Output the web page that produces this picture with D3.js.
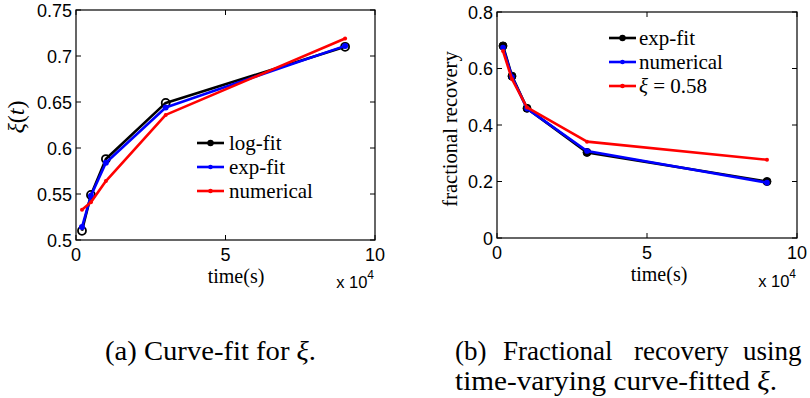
<!DOCTYPE html>
<html><head><meta charset="utf-8">
<script src="https://cdn.jsdelivr.net/npm/d3@7"></script>
<style>body{margin:0;background:#fff}svg{display:block}</style>
</head><body>
<svg id="c" width="810" height="398"></svg>
<script>
// ---- data ----
const timesA = [2000, 5000, 10000, 30000, 90000];
const logFit = [0.510, 0.549, 0.588, 0.649, 0.710];
const expFitA = [0.514, 0.548, 0.584, 0.644, 0.711];
const numericalA = [0.533, 0.541, 0.564, 0.636, 0.719];
const xTicks = [0, 5, 10];
const yTicksA = [0.5, 0.55, 0.6, 0.65, 0.7, 0.75];
const legendA = ["log-fit", "exp-fit", "numerical"];

const timesB = [2000, 5000, 10000, 30000, 90000];
const expFitB = [0.680, 0.573, 0.459, 0.303, 0.200];
const numericalB = [0.674, 0.570, 0.458, 0.308, 0.196];
const xi058 = [0.662, 0.562, 0.462, 0.341, 0.277];
const yTicksB = [0, 0.2, 0.4, 0.6, 0.8];
const legendB = ["exp-fit", "numerical", "<tspan font-style='italic'>ξ</tspan> = 0.58"];

const svg = d3.select("#c");
const SERIF = '"Liberation Serif"';
const SANS = '"Liberation Sans"';

function panel(o) {
  const x = d3.scaleLinear().domain([0, 100000]).range([o.x0, o.x1]);
  const y = d3.scaleLinear().domain(o.ydom).range([o.y1, o.y0]);
  const g = svg.append("g");
  g.append("rect").attr("x", o.x0).attr("y", o.y0).attr("width", o.x1 - o.x0).attr("height", o.y1 - o.y0)
    .attr("fill", "none").attr("stroke", "#000").attr("stroke-width", 1.2);
  const tl = 5;
  xTicks.forEach(t => {
    const px = x(t * 1e4);
    g.append("line").attr("x1", px).attr("x2", px).attr("y1", o.y1).attr("y2", o.y1 - tl).attr("stroke", "#000");
    g.append("line").attr("x1", px).attr("x2", px).attr("y1", o.y0).attr("y2", o.y0 + tl).attr("stroke", "#000");
    g.append("text").style("font-family", SANS).attr("x", px).attr("y", o.y1 + 21).attr("text-anchor", "middle")
      .attr("font-size", 18).text(t);
  });
  o.yticks.forEach(t => {
    const py = y(t);
    g.append("line").attr("x1", o.x0).attr("x2", o.x0 + tl).attr("y1", py).attr("y2", py).attr("stroke", "#000");
    g.append("line").attr("x1", o.x1).attr("x2", o.x1 - tl).attr("y1", py).attr("y2", py).attr("stroke", "#000");
    g.append("text").style("font-family", SANS).attr("x", o.x0 - 4).attr("y", py + 6.5).attr("text-anchor", "end")
      .attr("font-size", 18).text(o.fmt(t));
  });
  const line = d3.line().x((d, i) => x(o.times[i])).y(d => y(d));
  o.series.forEach(s => {
    g.append("path").datum(s.v).attr("d", line).attr("fill", "none").attr("stroke", s.c)
      .attr("stroke-width", 2.6).attr("stroke-linejoin", "round");
    g.selectAll(null).data(s.v).enter().append("circle")
      .attr("cx", (d, i) => x(o.times[i])).attr("cy", d => y(d))
      .attr("r", s.r).attr("fill", s.fill).attr("stroke", s.c).attr("stroke-width", s.sw);
  });
  o.series.forEach((s, i) => {
    const ly = o.ly + i * o.lstep;
    g.append("line").attr("x1", o.lx).attr("x2", o.lx + 27).attr("y1", ly).attr("y2", ly)
      .attr("stroke", s.c).attr("stroke-width", 2.6);
    g.append("circle").attr("cx", o.lx + 13.5).attr("cy", ly).attr("r", i === 0 ? 3.2 : 2.3).attr("fill", s.c);
    g.append("text").style("font-family", SERIF).attr("x", o.lx + o.ltx).attr("y", ly + 6.5)
      .attr("font-size", 21).html(o.legend[i]);
  });
  g.append("text").style("font-family", SERIF).attr("x", o.xlab).attr("y", o.xlabY).attr("text-anchor", "middle")
    .attr("font-size", 20).text("time(s)");
  const e = g.append("text").style("font-family", SANS).attr("x", o.x1 - 1).attr("y", o.expY).attr("text-anchor", "end")
    .attr("font-size", 16.5);
  e.append("tspan").text("x 10");
  e.append("tspan").attr("font-size", 12).attr("dy", -9).text("4");
  return {x, y, g};
}

const A = panel({
  x0: 76, x1: 375, y0: 10, y1: 240, ydom: [0.5, 0.75], yticks: yTicksA,
  fmt: d => String(+d.toFixed(2)), times: timesA,
  series: [
    {v: logFit, c: "#000", r: 4, fill: "none", sw: 1.8},
    {v: expFitA, c: "#0000ff", r: 3, fill: "#0000ff", sw: 0},
    {v: numericalA, c: "#ff0000", r: 2, fill: "#ff0000", sw: 0}
  ],
  legend: legendA, lx: 197, ly: 143, lstep: 24, ltx: 32, xlab: 236, xlabY: 283, expY: 288
});
A.g.append("text").style("font-family", SERIF).attr("transform", "translate(24,117) rotate(-90)").attr("text-anchor", "middle")
  .attr("font-size", 24).html("<tspan font-style='italic'>ξ</tspan>(<tspan font-style='italic'>t</tspan>)");

const B = panel({
  x0: 497, x1: 797, y0: 12, y1: 238, ydom: [0, 0.8], yticks: yTicksB,
  fmt: d => String(+d.toFixed(1)), times: timesB,
  series: [
    {v: expFitB, c: "#000", r: 4, fill: "#000", sw: 1},
    {v: numericalB, c: "#0000ff", r: 2.8, fill: "#0000ff", sw: 0},
    {v: xi058, c: "#ff0000", r: 2, fill: "#ff0000", sw: 0}
  ],
  legend: legendB, lx: 609, ly: 38, lstep: 24, ltx: 30, xlab: 659, xlabY: 281, expY: 287
});
B.g.append("text").style("font-family", SERIF).attr("transform", "translate(457,129) rotate(-90)").attr("text-anchor", "middle")
  .attr("font-size", 20.5).text("fractional recovery");

const cap = svg.append("g").style("font-family", SERIF).attr("font-size", 27);
cap.append("text").attr("x", 105).attr("y", 360).attr("textLength", 211).attr("lengthAdjust", "spacingAndGlyphs")
  .html("(a) Curve-fit for <tspan font-style='italic'>ξ</tspan>.");
const w1 = [["(b)", 455], ["Fractional", 503], ["recovery", 634], ["using", 743]];
w1.forEach(([w, px]) => cap.append("text").attr("x", px).attr("y", 360).text(w));
cap.append("text").attr("x", 455).attr("y", 390).attr("textLength", 322).attr("lengthAdjust", "spacingAndGlyphs")
  .html("time-varying curve-fitted <tspan font-style='italic'>ξ</tspan>.");
</script>
</body></html>
